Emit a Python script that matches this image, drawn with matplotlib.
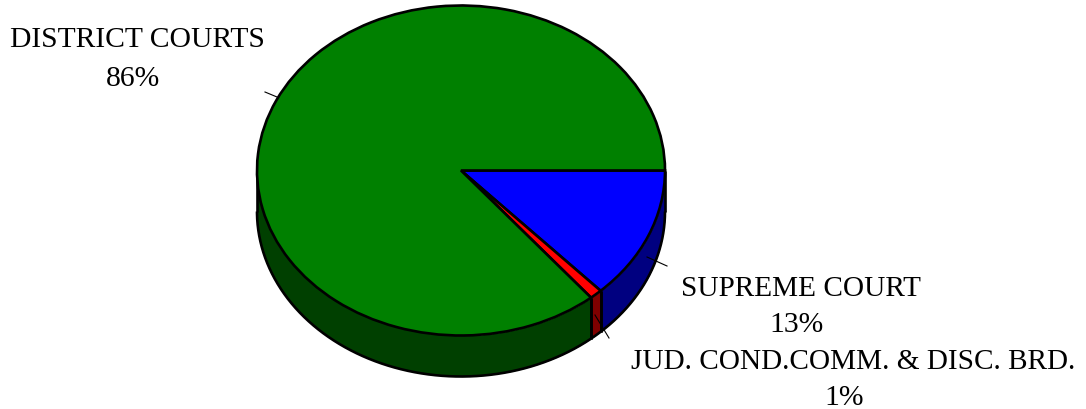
import numpy as np
import matplotlib
matplotlib.use("Agg")
import matplotlib.pyplot as plt

labels = ["SUPREME COURT", "JUD. COND.COMM. & DISC. BRD.", "DISTRICT COURTS"]
values = [13, 1, 86]
top_colors = ["#0000ff", "#ff0000", "#008000"]
side_colors = ["#000080", "#800000", "#004000"]

W, H = 1086, 410
plt.rcParams["font.family"] = ["Liberation Serif"]
fig = plt.figure(figsize=(W / 100, H / 100), dpi=100)

# the axes box is the ellipse of the pie top, 1 data unit = the radius
cx, cy, rx, ry = 461, 171.5, 204, 165
ax = fig.add_axes([(cx - rx) / W, 1 - (cy + ry) / H, 2 * rx / W, 2 * ry / H])
wedges, _ = ax.pie(values, colors=top_colors, startangle=0, counterclock=False, radius=1,
                   wedgeprops=dict(edgecolor="black", linewidth=1.9))
ax.set_aspect("auto")
ax.set_xlim(-1, 1)
ax.set_ylim(-1, 1)
ax.axis("off")
for w in wedges:
    w.set_clip_on(False)
    w.set_zorder(5)

depth = 41 / ry
edges = np.cumsum([0] + values) / sum(values) * -360
for i in range(len(values)):
    # only the front half of the rim shows a wall
    a0, a1 = edges[i], max(edges[i + 1], -180)
    t = np.radians(np.linspace(a0, a1, 200))
    x = np.cos(t)
    y = np.sin(t)
    ax.fill_between(x, y - depth, y, color=side_colors[i], lw=0, zorder=1, clip_on=False)
    ax.plot(x, y - depth, color="black", lw=1.9, zorder=2, clip_on=False, solid_capstyle="butt")
    ax.plot([x[0], x[0]], [y[0], y[0] - depth], color="black", lw=1.9, zorder=2, clip_on=False,
            solid_capstyle="butt")
    ax.plot([x[-1], x[-1]], [y[-1], y[-1] - depth], color="black", lw=1.9, zorder=2, clip_on=False,
            solid_capstyle="butt")

# leader lines and labels are placed in figure pixels
def leader(x0, y0, x1, y1):
    fig.add_artist(plt.Line2D([x0 / W, x1 / W], [1 - y0 / H, 1 - y1 / H], color="black", lw=0.8))

leader(647, 258, 667, 267)
leader(595, 316, 609, 339)
leader(265, 93, 277, 98)

fs = 21.3
fig.text(137.5 / W, 1 - 40 / H, labels[2], fontsize=fs, ha="center", va="center")
fig.text(133 / W, 1 - 79 / H, "%d%%" % values[2], fontsize=fs, ha="center", va="center")
fig.text(801 / W, 1 - 289.5 / H, labels[0], fontsize=21.1, ha="center", va="center")
fig.text(796 / W, 1 - 325.5 / H, "%d%%" % values[0], fontsize=fs, ha="center", va="center")
fig.text(853.5 / W, 1 - 362.5 / H, labels[1], fontsize=21.05, ha="center", va="center")
fig.text(844 / W, 1 - 398 / H, "%d%%" % values[1], fontsize=fs, ha="center", va="center")

fig.savefig("out.png", dpi=100)
